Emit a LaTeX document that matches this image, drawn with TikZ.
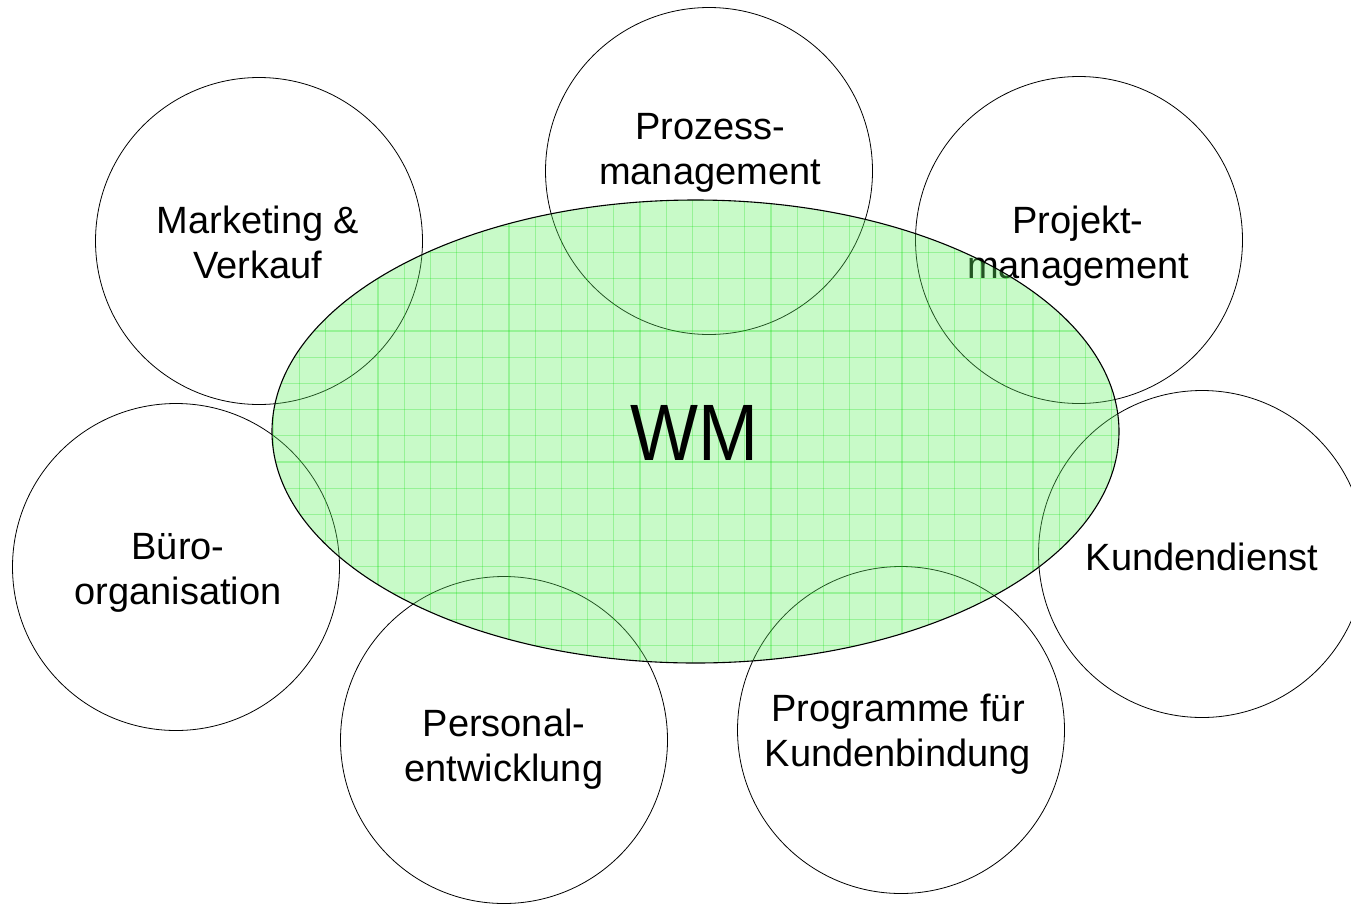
\documentclass[tikz,border=0pt]{standalone}
\usepackage{fontspec}
\setmainfont{Liberation Sans}
\definecolor{wmfill}{RGB}{98,241,98}
\definecolor{wmgrid}{RGB}{0,220,0}
\begin{document}
\begin{tikzpicture}[x=1pt,y=-1pt,
  area/.style={draw=black, line width=0.8pt, circle, minimum size=327pt, inner sep=0pt},
  lbl/.style={font=\fontsize{38}{45}\selectfont, align=center, anchor=base, inner sep=0pt},
  wmshape/.style={x radius=423.5pt, y radius=231.5pt}]
\useasboundingbox (0,0) rectangle (1351,905);
% outer circles
\node[area] (proz) at (709,171) {};
\node[area] (mark) at (259,241) {};
\node[area] (proj) at (1079,240) {};
\node[area] (kund) at (1202,554) {};
\node[area] (buero) at (176,567) {};
\node[area] (pers) at (504,740) {};
\node[area] (prog) at (901,730) {};
% labels (anchor = baseline of last line)
\node[lbl] (tproz) at (710,184) {Prozess-\\management};
\node[lbl] (tmark) at (258,278) {Marketing \&\\Verkauf};
\node[lbl] (tproj) at (1078,278) {Projekt-\\management};
\node[lbl] (tkund) at (1202,570) {Kundendienst};
\node[lbl] (tbuero) at (178,604) {Büro-\\organisation};
\node[lbl] (tpers) at (504,781) {Personal-\\entwicklung};
\node[lbl] (tprog) at (898,766) {Programme für\\Kundenbindung};
% central ellipse
\coordinate (wmc) at (695.5,431.5);
\fill[wmfill, fill opacity=0.35] (wmc) ellipse [wmshape];
\begin{scope}
  \clip (wmc) ellipse [wmshape];
  \foreach \i in {-4,...,30}
    \draw[wmgrid, draw opacity=0.25, line width=1.2pt] (351.7+26.2*\i,190) -- (351.7+26.2*\i,680);
  \foreach \j in {-9,...,10}
    \draw[wmgrid, draw opacity=0.25, line width=1.2pt] (260,409.5+26.2*\j) -- (1130,409.5+26.2*\j);
\end{scope}
\draw[black, line width=1.1pt] (wmc) ellipse [wmshape];
\node[font=\fontsize{80}{80}\selectfont, xscale=0.9, anchor=base, inner sep=0pt] (wm) at (694,460) {WM};
\end{tikzpicture}
\end{document}
